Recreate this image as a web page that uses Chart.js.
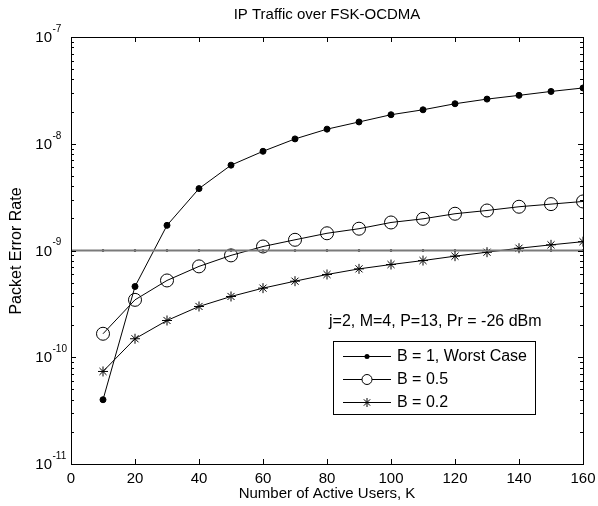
<!DOCTYPE html>
<html>
<head>
<meta charset="utf-8">
<script src="https://cdn.jsdelivr.net/npm/chart.js@4"></script>
<style>
  html, body { margin: 0; padding: 0; background: #fff; }
  canvas { display: block; }
</style>
</head>
<body>
<canvas id="myChart" width="598" height="506"></canvas>
<script>
// valores
const usuarios = [10, 20, 30, 40, 50, 60, 70, 80, 90, 100, 110, 120, 130, 140, 150, 160];
const perPior = [4.0e-11, 4.6e-10, 1.72e-9, 3.8e-9, 6.3e-9, 8.5e-9, 1.11e-8, 1.37e-8, 1.6e-8, 1.87e-8, 2.08e-8, 2.37e-8, 2.62e-8, 2.84e-8, 3.09e-8, 3.33e-8];
const perMeio = [1.66e-10, 3.45e-10, 5.24e-10, 7.1e-10, 9.0e-10, 1.09e-9, 1.26e-9, 1.45e-9, 1.6e-9, 1.83e-9, 1.98e-9, 2.21e-9, 2.37e-9, 2.57e-9, 2.72e-9, 2.88e-9];
const perFracao = [7.36e-11, 1.49e-10, 2.21e-10, 2.99e-10, 3.71e-10, 4.44e-10, 5.16e-10, 5.96e-10, 6.73e-10, 7.39e-10, 8.05e-10, 8.85e-10, 9.64e-10, 1.05e-9, 1.13e-9, 1.21e-9];
const limiteX = [0, 160];
const limite = 1e-9;
const rotulos = ['B = 1, Worst Case', 'B = 0.5', 'B = 0.2'];
const xTicks = [0, 20, 40, 60, 80, 100, 120, 140, 160];
const yExpoentes = [-11, -10, -9, -8, -7];

const fonte = '"Liberation Sans", Arial, Helvetica, sans-serif';

function pontos(xs, ys) {
    return xs.map((x, i) => ({ x: x, y: ys[i] }));
}

const seriePior = {
    label: rotulos[0], data: pontos(usuarios, perPior),
    borderColor: '#000', backgroundColor: '#000', borderWidth: 1,
    pointStyle: 'circle', pointRadius: 3, pointBorderWidth: 1
};
const serieMeio = {
    label: rotulos[1], data: pontos(usuarios, perMeio),
    borderColor: '#000', backgroundColor: 'rgba(0,0,0,0)', borderWidth: 1,
    pointStyle: 'circle', pointRadius: 6.5, pointBorderWidth: 1
};
const serieFracao = {
    label: rotulos[2], data: pontos(usuarios, perFracao),
    borderColor: '#000', backgroundColor: '#000', borderWidth: 1,
    pointStyle: 'star', pointRadius: 5, pointBorderWidth: 1
};

const linhaLimite = {
    label: 'limite', data: limiteX.map(x => ({ x: x, y: limite })),
    borderColor: '#7a7a7a', borderWidth: 2, pointRadius: 0
};
const pontosLimite = {
    label: 'limite pontos', data: usuarios.map(x => ({ x: x, y: limite })),
    showLine: false, borderColor: '#000', backgroundColor: '#000',
    pointStyle: 'circle', pointRadius: 1.3, pointBorderWidth: 0
};

// moldura, ticks internos, rotulos, legenda
const estiloMatlab = {
    id: 'estiloMatlab',
    afterDraw(chart) {
        const c = chart.ctx;
        const a = chart.chartArea;
        const sx = chart.scales.x;
        const sy = chart.scales.y;
        c.save();
        c.strokeStyle = '#000';
        c.lineWidth = 1;
        c.strokeRect(Math.round(a.left) + 0.5, Math.round(a.top) + 0.5,
            Math.round(a.right - a.left), Math.round(a.bottom - a.top));

        c.beginPath();
        xTicks.forEach(v => {
            const px = Math.round(sx.getPixelForValue(v)) + 0.5;
            c.moveTo(px, a.bottom); c.lineTo(px, a.bottom - 5);
            c.moveTo(px, a.top); c.lineTo(px, a.top + 5);
        });
        for (let e = -11; e < -7; e++) {
            for (let m = 1; m < 10; m++) {
                const py = Math.round(sy.getPixelForValue(m * Math.pow(10, e))) + 0.5;
                const len = m === 1 ? 5 : 3;
                c.moveTo(a.left, py); c.lineTo(a.left + len, py);
                c.moveTo(a.right, py); c.lineTo(a.right - len, py);
            }
        }
        c.stroke();

        c.fillStyle = '#000';
        yExpoentes.forEach(e => {
            const py = sy.getPixelForValue(Math.pow(10, e));
            c.font = '15px ' + fonte;
            c.textAlign = 'right';
            c.textBaseline = 'middle';
            c.fillText('10', 52, py + 1);
            c.font = '10px ' + fonte;
            c.textAlign = 'left';
            c.fillText('-' + Math.abs(e), 52.5, py - 8);
        });

        c.font = '15px ' + fonte;
        c.textAlign = 'center';
        c.textBaseline = 'middle';
        const meio = (a.left + a.right) / 2;
        c.fillText('IP Traffic over FSK-OCDMA', meio, 15);
        c.fillText('Number of Active Users, K', meio, 494);

        c.save();
        c.translate(17, 251);
        c.rotate(-Math.PI / 2);
        c.font = '16px ' + fonte;
        c.fillText('Packet Error Rate', 0, 0);
        c.restore();

        c.font = '16px ' + fonte;
        c.textAlign = 'left';
        c.fillText('j=2, M=4, P=13, Pr = -26 dBm', 329, 322);

        // legenda
        c.fillStyle = '#fff';
        c.fillRect(333.5, 341.5, 202, 73);
        c.strokeStyle = '#000';
        c.strokeRect(333.5, 341.5, 202, 73);
        const series = [seriePior, serieMeio, serieFracao];
        series.forEach((s, i) => {
            const y = 356 + i * 23;
            c.beginPath();
            c.strokeStyle = s.borderColor;
            c.lineWidth = 1;
            c.moveTo(343, y + 0.5); c.lineTo(391, y + 0.5);
            c.stroke();
            if (s === serieMeio) {
                c.beginPath(); c.arc(367, y + 0.5, 5, 0, Math.PI * 2);
                c.fillStyle = '#fff'; c.fill(); c.stroke();
            } else if (s === seriePior) {
                c.beginPath(); c.arc(367, y + 0.5, 2.5, 0, Math.PI * 2);
                c.fillStyle = '#000'; c.fill();
            } else {
                Chart.helpers.drawPoint(c, {
                    pointStyle: s.pointStyle, radius: 4.5, rotation: 0, borderWidth: 1
                }, 367, y + 0.5);
            }
            c.fillStyle = '#000';
            c.font = '16px ' + fonte;
            c.textBaseline = 'middle';
            c.fillText(s.label, 397, y + 1);
        });
        c.restore();
    }
};

const ctx = document.getElementById('myChart').getContext('2d');

const grafico = new Chart(ctx, {
    type: 'line',
    data: {
        datasets: [linhaLimite, pontosLimite, seriePior, serieMeio, serieFracao]
    },
    options: {
        responsive: false,
        animation: false,
        devicePixelRatio: 1,
        layout: { padding: { left: 0, right: 15, top: 37, bottom: 0 } },
        plugins: {
            legend: { display: false },
            tooltip: { enabled: false }
        },
        scales: {
            x: {
                type: 'linear', min: 0, max: 160,
                grid: { display: false, drawTicks: false },
                border: { display: false },
                ticks: {
                    stepSize: 20, color: '#000', padding: 6, maxRotation: 0,
                    font: { family: fonte, size: 15 }
                },
                afterFit: (s) => { s.height = 42; s.paddingLeft = 0; s.paddingRight = 0; }
            },
            y: {
                type: 'logarithmic', min: 1e-11, max: 1e-7,
                grid: { display: false, drawTicks: false },
                border: { display: false },
                ticks: { display: false },
                afterFit: (s) => { s.width = 71; s.paddingTop = 0; s.paddingBottom = 0; }
            }
        }
    },
    plugins: [estiloMatlab]
});
</script>
</body>
</html>
